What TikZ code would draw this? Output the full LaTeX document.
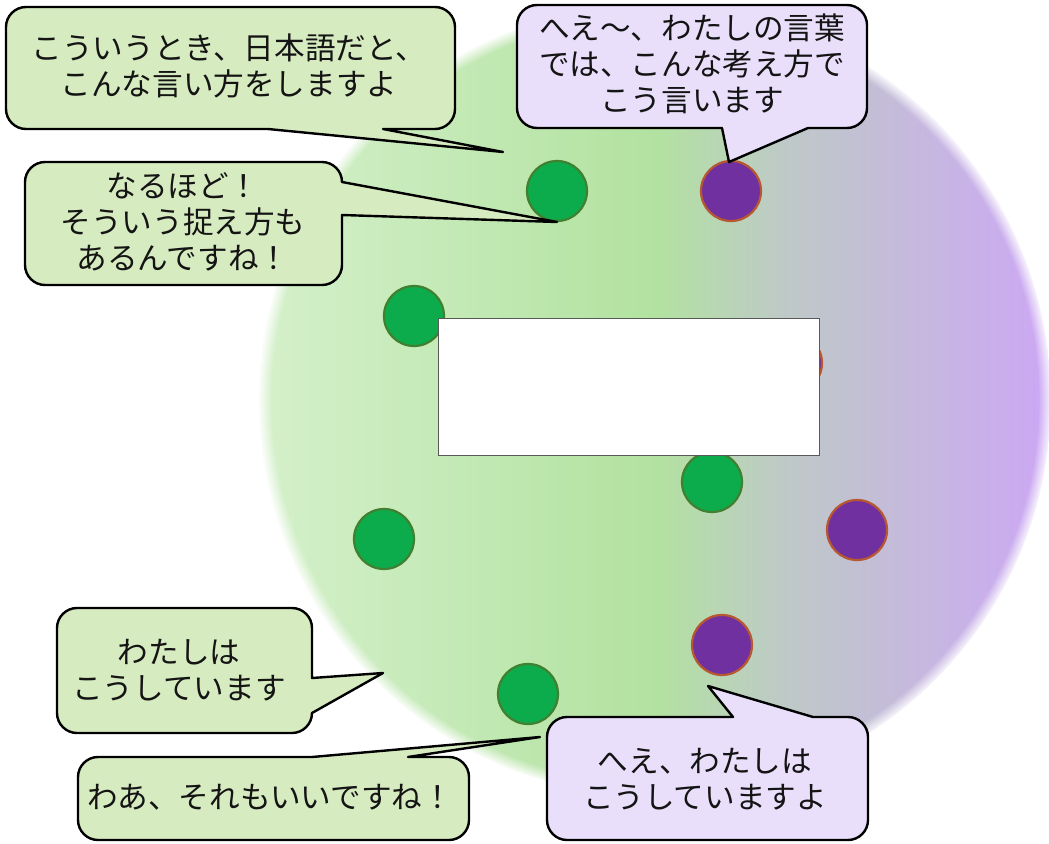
\documentclass[tikz,border=0pt]{standalone}
\usepackage{fontspec}
\newfontfamily\jp{Noto Sans CJK JP}
\usetikzlibrary{fadings}
\definecolor{bgL}{RGB}{212,240,202}
\definecolor{bgM}{RGB}{178,226,160}
\definecolor{bgG}{RGB}{190,202,198}
\definecolor{bgP}{RGB}{204,168,244}
\definecolor{dotG}{RGB}{12,172,76}
\definecolor{dotGb}{RGB}{64,128,48}
\definecolor{dotP}{RGB}{112,48,160}
\definecolor{dotPb}{RGB}{184,88,48}
\definecolor{bubG}{RGB}{215,235,192}
\definecolor{bubP}{RGB}{233,223,250}
\pgfdeclarehorizontalshading{bgsh}{100bp}{color(0bp)=(bgL); color(25.4bp)=(bgL); color(50bp)=(bgM); color(57.9bp)=(bgG); color(74.6bp)=(bgP); color(100bp)=(bgP)}
\pgfdeclareradialshading{softmask}{\pgfpointorigin}{gray(0bp)=(1); gray(24.1bp)=(1); gray(25bp)=(0); gray(50bp)=(0)}
\pgfdeclarefading{soft}{\pgfuseshading{softmask}}
\tikzset{
  gdot/.style={circle, fill=dotG, draw=dotGb, line width=2.2pt, minimum size=60pt, inner sep=0pt},
  pdot/.style={circle, fill=dotP, draw=dotPb, line width=2.2pt, minimum size=60pt, inner sep=0pt},
  gbub/.style={fill=bubG, draw=black, line width=2.4pt, line join=round},
  pbub/.style={fill=bubP, draw=black, line width=2.4pt, line join=round},
  txt/.style={font=\jp\fontsize{30.6}{36}\selectfont, align=center, inner sep=0pt, text=black!92},
}
\begin{document}
\begin{tikzpicture}[x=1pt,y=-1pt]
\useasboundingbox (0,0) rectangle (1049,843);
\fill[white] (0,0) rectangle (1049,843);
% background disc
\shade[shading=bgsh, path fading=soft] (655,400) circle [radius=396pt];
% dots
\node[gdot] (g1) at (557,191) {};
\node[pdot] (p1) at (731,191) {};
\node[gdot] (g2) at (414,316) {};
\node[pdot] (p0) at (792,363) {};
\node[gdot] (g3) at (712,482) {};
\node[pdot] (p2) at (857,530) {};
\node[gdot] (g4) at (384,539) {};
\node[pdot] (p3) at (722,645) {};
\node[gdot] (g5) at (528,694) {};
% blank panel
\node[draw=black!65, fill=white, line width=0.8pt, minimum width=381pt, minimum height=137pt, inner sep=0pt] (blank) at (628.5,386.5) {};
% tail tips
\coordinate (t1) at (503,152);
\coordinate (t2) at (557,222);
\coordinate (t3) at (729,162);
\coordinate (t4) at (383,673);
\coordinate (t5) at (540,737);
\coordinate (t6) at (708,686);
% callout 1
\draw[gbub] (26,7) -- (435,7) .. controls (446,7) and (455,16) .. (455,27) -- (455,109) .. controls (455,120) and (446,129) .. (435,129) -- (383,129) -- (t1) -- (268,129) -- (26,129) .. controls (15,129) and (6,120) .. (6,109) -- (6,27) .. controls (6,16) and (15,7) .. (26,7) -- cycle;
% callout 2
\draw[gbub] (45,162) -- (322,162) .. controls (333,162) and (342,171) .. (342,182) -- (t2) -- (342,215) -- (342,265) .. controls (342,276) and (333,285) .. (322,285) -- (45,285) .. controls (34,285) and (25,276) .. (25,265) -- (25,182) .. controls (25,171) and (34,162) .. (45,162) -- cycle;
% callout 3
\draw[pbub] (537,5) -- (847,5) .. controls (858,5) and (867,14) .. (867,25) -- (867,108) .. controls (867,119) and (858,128) .. (847,128) -- (808,128) -- (t3) -- (722,128) -- (537,128) .. controls (526,128) and (517,119) .. (517,108) -- (517,25) .. controls (517,14) and (526,5) .. (537,5) -- cycle;
% callout 4
\draw[gbub] (77,608) -- (292,608) .. controls (303,608) and (312,617) .. (312,628) -- (312,678) -- (t4) -- (312,713) .. controls (312,724) and (303,733) .. (292,733) -- (77,733) .. controls (66,733) and (57,724) .. (57,713) -- (57,628) .. controls (57,617) and (66,608) .. (77,608) -- cycle;
% callout 5
\draw[gbub] (98,757) -- (312,757) -- (t5) -- (408,757) -- (449,757) .. controls (460,757) and (469,766) .. (469,777) -- (469,820) .. controls (469,831) and (460,840) .. (449,840) -- (98,840) .. controls (87,840) and (78,831) .. (78,820) -- (78,777) .. controls (78,766) and (87,757) .. (98,757) -- cycle;
% callout 6
\draw[pbub] (567,717) -- (733,717) -- (t6) -- (813,717) -- (848,717) .. controls (859,717) and (868,726) .. (868,737) -- (868,820) .. controls (868,831) and (859,840) .. (848,840) -- (567,840) .. controls (556,840) and (547,831) .. (547,820) -- (547,737) .. controls (547,726) and (556,717) .. (567,717) -- cycle;
% texts
\node[txt] (c1) at (229,66) {こういうとき、日本語だと、\\こんな言い方をしますよ};
\node[txt] (c2) at (183,222) {なるほど！\\そういう捉え方も\\あるんですね！};
\node[txt] (c3) at (692,64) {へえ～、わたしの言葉\\では、こんな考え方で\\こう言います};
\node[txt] (c4) at (179,670) {わたしは\\こうしています};
\node[txt] (c5) at (270,797) {わあ、それもいいですね！};
\node[txt] (c6) at (705,779) {へえ、わたしは\\こうしていますよ};
\end{tikzpicture}
\end{document}
